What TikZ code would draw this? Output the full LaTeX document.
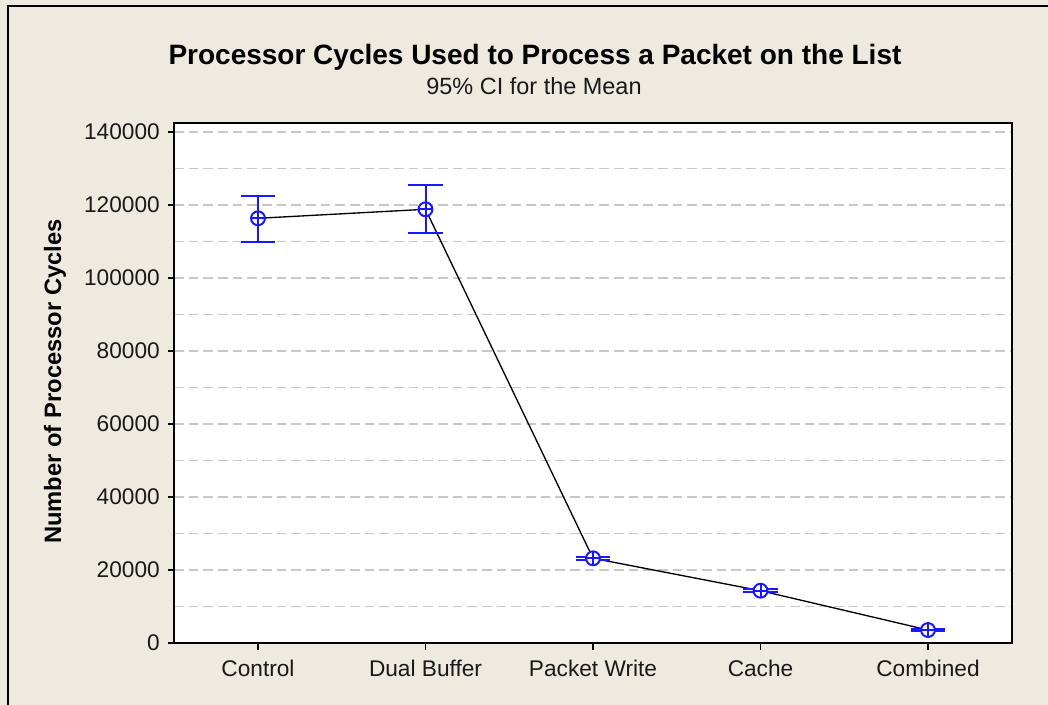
\documentclass[tikz,border=0pt]{standalone}
\usepackage{fontspec}
\setmainfont{Liberation Sans}
\definecolor{panel}{RGB}{238,234,224}
\definecolor{gridgray}{RGB}{200,200,200}
\definecolor{ciblue}{RGB}{25,25,255}
\begin{document}
\begin{tikzpicture}[x=0.75pt,y=-0.75pt,
  axisfont/.style={font=\fontsize{17}{20}\selectfont, text=black!90},
  gridline/.style={draw=gridgray, line width=1.2pt, dash pattern=on 7.3pt off 3.7pt},
  cibar/.style={draw=ciblue, line width=1.5pt},
  meanline/.style={draw=black, line width=1pt},
  frameline/.style={draw=black, line width=1.2pt},
  ticklabel/.style={axisfont, inner sep=0pt}
  ]
\useasboundingbox (0,0) rectangle (1048,705);
\fill[panel] (0,0) rectangle (1048,705);
\draw[frameline] (8,705) -- (8,6) -- (1048,6);

% plot area
\fill[white] (174,123) rectangle (1012,643);
\foreach \k in {1,...,14}
  \draw[gridline] (174,643-36.5*\k) -- (1012,643-36.5*\k);
\draw[frameline] (174,123) rectangle (1012,643);

% y axis ticks and labels
\foreach \v [count=\i from 0] in {0,20000,40000,60000,80000,100000,120000,140000} {
  \draw[frameline] (168,643-73*\i) -- (174,643-73*\i);
  \node[ticklabel, anchor=east] at (160,643-73*\i) {\v};
}

% x axis ticks and labels
\foreach \name [count=\i from 0] in {Control,Dual Buffer,Packet Write,Cache,Combined} {
  \draw[frameline] (258+167.5*\i,643) -- (258+167.5*\i,650);
  \node[ticklabel, anchor=base] at (258+167.5*\i,676) {\name};
}

% titles
\node[anchor=base, inner sep=0pt, font=\fontsize{21}{24}\selectfont\bfseries] (title) at (535,65)
  {Processor Cycles Used to Process a Packet on the List};
\node[anchor=base, inner sep=0pt, font=\fontsize{17.6}{20}\selectfont, text=black!90] (subtitle) at (534,95)
  {95\% CI for the Mean};
\node[anchor=base, rotate=90, inner sep=0pt, font=\fontsize{17.8}{20}\selectfont\bfseries] (ylabel) at (61,381.5)
  {Number of Processor Cycles};

% group means and interval ends (pixel rows)
\coordinate (m1) at (258,218.3);   \coordinate (t1) at (258,196);   \coordinate (b1) at (258,242.3);
\coordinate (m2) at (425.5,209.3); \coordinate (t2) at (425.5,185); \coordinate (b2) at (425.5,232.7);
\coordinate (m3) at (593,558.3);   \coordinate (t3) at (593,556.8); \coordinate (b3) at (593,559.8);
\coordinate (m4) at (760.5,590.7); \coordinate (t4) at (760.5,589.3); \coordinate (b4) at (760.5,592.1);
\coordinate (m5) at (928,630);     \coordinate (t5) at (928,629);   \coordinate (b5) at (928,631);

% line joining the means
\draw[meanline] (m1) -- (m2) -- (m3) -- (m4) -- (m5);

% interval bars with mean markers
\foreach \j in {1,...,5} {
  \draw[cibar] (t\j) -- (b\j);
  \draw[cibar] ([xshift=-13pt]t\j) -- ([xshift=13pt]t\j);
  \draw[cibar] ([xshift=-13pt]b\j) -- ([xshift=13pt]b\j);
  \draw[cibar, fill=white] (m\j) circle (5.2pt);
  \draw[cibar] ([xshift=-5.2pt]m\j) -- ([xshift=5.2pt]m\j);
  \draw[cibar] ([yshift=-5.2pt]m\j) -- ([yshift=5.2pt]m\j);
}
\end{tikzpicture}
\end{document}
